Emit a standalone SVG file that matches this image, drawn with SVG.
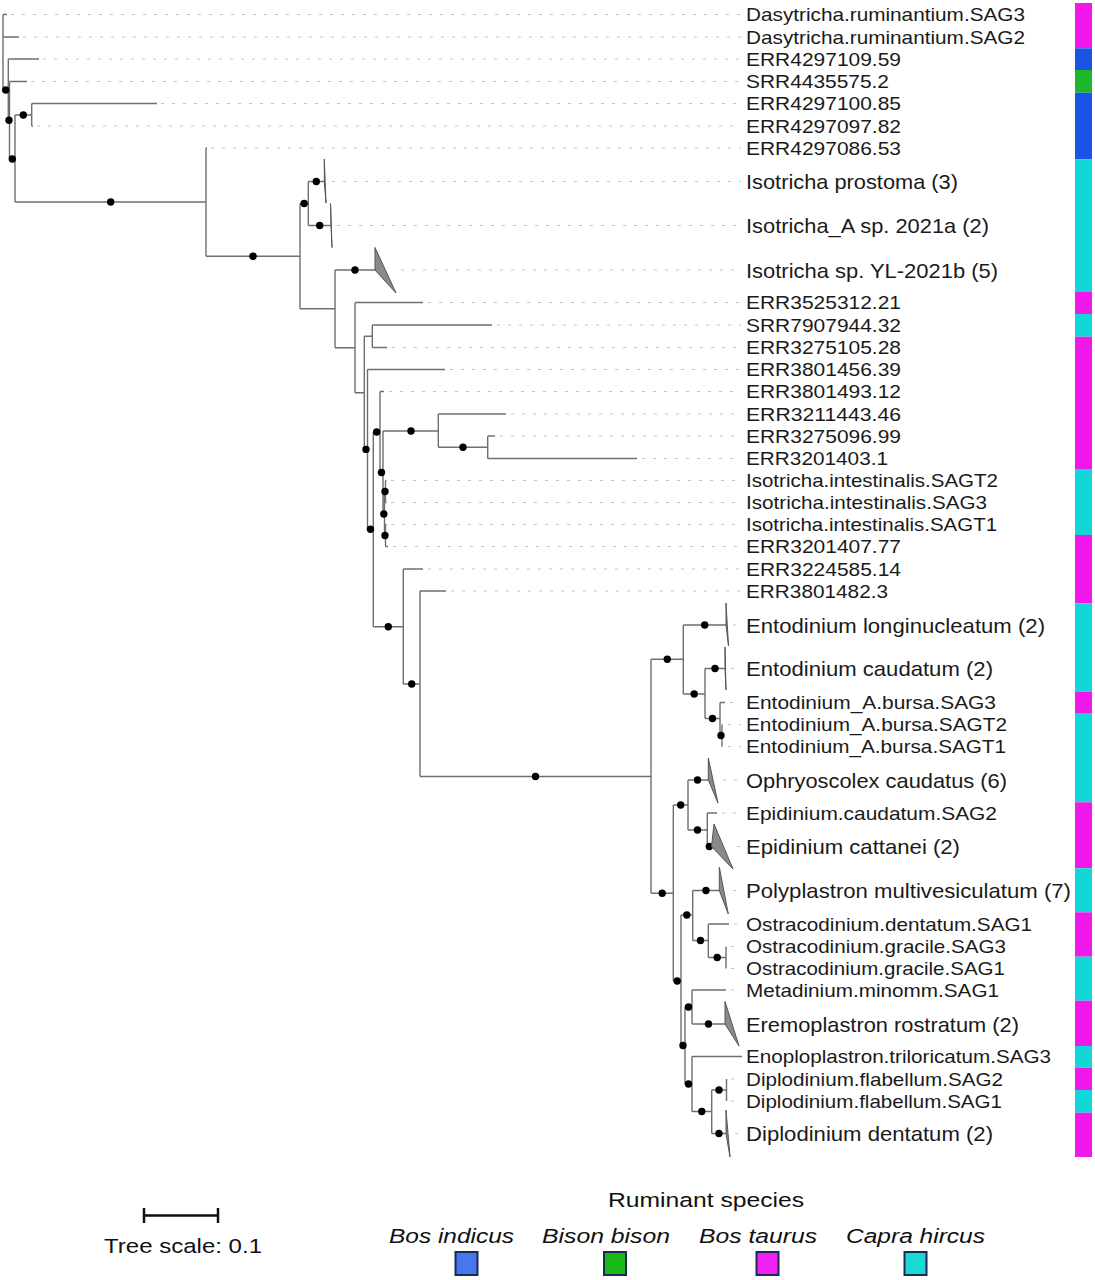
<svg xmlns="http://www.w3.org/2000/svg" width="1095" height="1280" viewBox="0 0 1095 1280">
<style>
.br{fill:none;stroke:#6f6f6f;stroke-width:1.4}
.ld{stroke:#c4c4c4;stroke-width:1;stroke-dasharray:3 8}
.dot{fill:#000}
.tri{fill:#8a8a8a;stroke:#555;stroke-width:1}
.lb{font-family:"Liberation Sans",Arial,sans-serif;font-size:18.5px;fill:#1a1a1a}
.lg{font-size:21px}
.leg{font-family:"Liberation Sans",Arial,sans-serif;font-size:20.5px;fill:#111}
.box{stroke:#1b2a50;stroke-width:2}
</style>
<rect width="1095" height="1280" fill="#fff"/>

<g id="connectors">
<path class="br" d="M3,14.5V90M3,14.5H7M3,37H19M3,90H8.3
M8.3,59V120.3M8.3,59H39M8.3,120.3H9.5
M9.5,81.5V159M9.5,81.5H27M9.5,159H15
M15,115V202M15,115H31.7M15,202H206
M31.7,103.5V126M31.7,103.5H157M31.7,126H33
M206,148V256.2M206,148H207M206,256.2H300
M300,203.5V308.8M300,203.5H308.3M300,308.8H335
M308.3,181.5V225.5M308.3,181.5H324.3M308.3,225.5H331
M335,270V347.7M335,270H375M335,347.7H355
M355,302.5V392.8M355,302.5H423M355,392.8H364.3
M364.3,336.3V449.4M364.3,336.3H372.3M364.3,449.4H367.5
M372.3,325V347.5M372.3,325H492M372.3,347.5H387
M367.5,369.5V529.3M367.5,369.5H445M367.5,529.3H373.3
M373.3,432V626.7M373.3,432H380M373.3,626.7H403.3
M380,391.5V472.5M380,391.5H384M380,472.5H383
M383,431V514M383,431H438.3M383,514H384.5
M438.3,414V447.3M438.3,414H506M438.3,447.3H487.7
M487.7,436V458.5M487.7,436H495M487.7,458.5H637
M384.5,491.5V535.5M384.5,491.5H385.5M384.5,535.5H385.5
M385.5,480.5V502.5M385.5,480.5H386.5M385.5,502.5H386.5
M385.5,524.5V546.5M385.5,524.5H386.5M385.5,546.5H388
M403.3,569V684M403.3,569H423M403.3,684H420
M420,591V776.5M420,591H446M420,776.5H651
M651,659.3V893.3M651,659.3H683.3M651,893.3H673.3
M683.3,625V694M683.3,625H726M683.3,694H705
M705,668.5V718.5M705,668.5H725M705,718.5H720
M720,702.5V735.5M720,702.5H725M720,735.5H722
M722,724.5V746.5M722,724.5H722.5M722,746.5H722.5
M673.3,805V981M673.3,805H688M673.3,981H681
M688,780V830M688,780H708.3M688,830H707.3
M707.3,813V846.5M707.3,813H717M707.3,846.5H711.5
M681,915V1045.5M681,915H692.7M681,1045.5H685
M692.7,890.5V940.5M692.7,890.5H719.3M692.7,940.5H708.3
M708.3,924V957.5M708.3,924H729M708.3,957.5H726
M726,946.5V968.5
M685,1007V1084M685,1007H692M685,1084H692
M692,990V1024M692,990H726M692,1024H725
M692,1056.5V1111.5M692,1056.5H742M692,1111.5H711.7
M711.7,1090V1133.5M711.7,1090H726.5M711.7,1133.5H726
M726.5,1079V1101"/>
</g>

<g id="support-dots" class="dot">
<circle cx="5.7" cy="90" r="3.7"/><circle cx="9" cy="120.3" r="3.7"/><circle cx="12.3" cy="159" r="3.7"/><circle cx="23.3" cy="115" r="3.7"/><circle cx="110.7" cy="202" r="3.7"/><circle cx="253" cy="256.2" r="3.7"/><circle cx="304.2" cy="203.5" r="3.7"/><circle cx="316.3" cy="181.5" r="3.7"/><circle cx="319.7" cy="225.5" r="3.7"/><circle cx="355" cy="270" r="3.7"/>
<circle cx="366" cy="449.4" r="3.7"/><circle cx="370.5" cy="529.3" r="3.7"/><circle cx="376.7" cy="432" r="3.7"/><circle cx="381.5" cy="472.5" r="3.7"/><circle cx="411" cy="431" r="3.7"/><circle cx="463" cy="447.3" r="3.7"/><circle cx="383.8" cy="514" r="3.7"/><circle cx="385" cy="491.5" r="3.7"/><circle cx="385" cy="535.5" r="3.7"/>
<circle cx="388.3" cy="626.7" r="3.7"/><circle cx="411.7" cy="684" r="3.7"/><circle cx="535.5" cy="776.5" r="3.7"/><circle cx="667.3" cy="659.3" r="3.7"/><circle cx="704.7" cy="625" r="3.7"/><circle cx="694.2" cy="694" r="3.7"/><circle cx="715" cy="668.5" r="3.7"/><circle cx="712.5" cy="718.5" r="3.7"/><circle cx="721" cy="735.5" r="3.7"/>
<circle cx="680.7" cy="805" r="3.7"/><circle cx="697.5" cy="780" r="3.7"/><circle cx="697.5" cy="830" r="3.7"/><circle cx="709.3" cy="846.5" r="3.7"/><circle cx="662.2" cy="893.3" r="3.7"/><circle cx="677.2" cy="981" r="3.7"/><circle cx="686.8" cy="915" r="3.7"/><circle cx="706" cy="890.5" r="3.7"/><circle cx="700.5" cy="940.5" r="3.7"/><circle cx="717.2" cy="957.5" r="3.7"/><circle cx="683" cy="1045.5" r="3.7"/><circle cx="688.5" cy="1007" r="3.7"/><circle cx="708.5" cy="1024" r="3.7"/><circle cx="688.5" cy="1084" r="3.7"/><circle cx="701.8" cy="1111.5" r="3.7"/><circle cx="719" cy="1090" r="3.7"/><circle cx="719" cy="1133.5" r="3.7"/>
</g>

<g id="collapsed-clades" class="tri">
<polygon points="324.3,181.5 324.3,159 326,203"/>
<polygon points="331,225.5 330.5,203.5 332,247.5"/>
<polygon points="375,270 375,247.5 396,293"/>
<polygon points="726,625 726,603 728.5,646"/>
<polygon points="725,668.5 725,647 726,690"/>
<polygon points="708.3,780 708.3,758 718,803"/>
<polygon points="711.5,846.5 714,824 733,869"/>
<polygon points="719.3,890.5 719.3,867 728.3,914"/>
<polygon points="725,1024 725,1001.5 739,1046"/>
<polygon points="726,1133.5 726,1110 730,1157"/>
</g>

<g id="leaders" class="ld">
<path d="M11,14.5H741M23,37H741M43,59H741M31,81.5H741M161,103.5H741M37,126H741M211,148H741M332,181.5H741M337,225.5H741M401,270H741M428,302.5H741M497,325H741M392,347.5H741M450,369.5H741M389,391.5H741M511,414H741M500,436H741M642,458.5H741M391,480.5H741M391,502.5H741M391,524.5H741M393,546.5H741M428,569H741M451,591H741M733,625H741M731,668.5H741M730,702.5H741M728,724.5H741M728,746.5H741M723,780H741M722,813H741M737,846.5H741M733,890.5H741M734,924H741M731,946.5H741M731,968.5H741M731,990H741M731,1079H741M731,1101H741M735,1133.5H741"/>
</g>

<g id="leaf-labels" class="lb">
<g id="n1"><text x="746" y="21" textLength="279" lengthAdjust="spacingAndGlyphs">Dasytricha.ruminantium.SAG3</text></g>
<g id="n2"><text x="746" y="43.5" textLength="279" lengthAdjust="spacingAndGlyphs">Dasytricha.ruminantium.SAG2</text></g>
<g id="n3"><text x="746" y="65.5" textLength="155" lengthAdjust="spacingAndGlyphs">ERR4297109.59</text></g>
<g id="n4"><text x="746" y="88" textLength="143" lengthAdjust="spacingAndGlyphs">SRR4435575.2</text></g>
<g id="n5"><text x="746" y="110" textLength="155" lengthAdjust="spacingAndGlyphs">ERR4297100.85</text></g>
<g id="n6"><text x="746" y="132.5" textLength="155" lengthAdjust="spacingAndGlyphs">ERR4297097.82</text></g>
<g id="n7"><text x="746" y="154.5" textLength="155" lengthAdjust="spacingAndGlyphs">ERR4297086.53</text></g>
<g id="n8"><text class="lg" x="746" y="189" textLength="212" lengthAdjust="spacingAndGlyphs">Isotricha prostoma (3)</text></g>
<g id="n9"><text class="lg" x="746" y="233" textLength="243" lengthAdjust="spacingAndGlyphs">Isotricha_A sp. 2021a (2)</text></g>
<g id="n10"><text class="lg" x="746" y="277.5" textLength="252" lengthAdjust="spacingAndGlyphs">Isotricha sp. YL-2021b (5)</text></g>
<g id="n11"><text x="746" y="309" textLength="155" lengthAdjust="spacingAndGlyphs">ERR3525312.21</text></g>
<g id="n12"><text x="746" y="331.5" textLength="155" lengthAdjust="spacingAndGlyphs">SRR7907944.32</text></g>
<g id="n13"><text x="746" y="354" textLength="155" lengthAdjust="spacingAndGlyphs">ERR3275105.28</text></g>
<g id="n14"><text x="746" y="376" textLength="155" lengthAdjust="spacingAndGlyphs">ERR3801456.39</text></g>
<g id="n15"><text x="746" y="398" textLength="155" lengthAdjust="spacingAndGlyphs">ERR3801493.12</text></g>
<g id="n16"><text x="746" y="420.5" textLength="155" lengthAdjust="spacingAndGlyphs">ERR3211443.46</text></g>
<g id="n17"><text x="746" y="442.5" textLength="155" lengthAdjust="spacingAndGlyphs">ERR3275096.99</text></g>
<g id="n18"><text x="746" y="465" textLength="142" lengthAdjust="spacingAndGlyphs">ERR3201403.1</text></g>
<g id="n19"><text x="746" y="487" textLength="252" lengthAdjust="spacingAndGlyphs">Isotricha.intestinalis.SAGT2</text></g>
<g id="n20"><text x="746" y="509" textLength="241" lengthAdjust="spacingAndGlyphs">Isotricha.intestinalis.SAG3</text></g>
<g id="n21"><text x="746" y="531" textLength="251" lengthAdjust="spacingAndGlyphs">Isotricha.intestinalis.SAGT1</text></g>
<g id="n22"><text x="746" y="553" textLength="155" lengthAdjust="spacingAndGlyphs">ERR3201407.77</text></g>
<g id="n23"><text x="746" y="575.5" textLength="155" lengthAdjust="spacingAndGlyphs">ERR3224585.14</text></g>
<g id="n24"><text x="746" y="597.5" textLength="142" lengthAdjust="spacingAndGlyphs">ERR3801482.3</text></g>
<g id="n25"><text class="lg" x="746" y="632.5" textLength="299" lengthAdjust="spacingAndGlyphs">Entodinium longinucleatum (2)</text></g>
<g id="n26"><text class="lg" x="746" y="676" textLength="247" lengthAdjust="spacingAndGlyphs">Entodinium caudatum (2)</text></g>
<g id="n27"><text x="746" y="709" textLength="250" lengthAdjust="spacingAndGlyphs">Entodinium_A.bursa.SAG3</text></g>
<g id="n28"><text x="746" y="731" textLength="261" lengthAdjust="spacingAndGlyphs">Entodinium_A.bursa.SAGT2</text></g>
<g id="n29"><text x="746" y="753" textLength="260" lengthAdjust="spacingAndGlyphs">Entodinium_A.bursa.SAGT1</text></g>
<g id="n30"><text class="lg" x="746" y="787.5" textLength="261" lengthAdjust="spacingAndGlyphs">Ophryoscolex caudatus (6)</text></g>
<g id="n31"><text x="746" y="819.5" textLength="251" lengthAdjust="spacingAndGlyphs">Epidinium.caudatum.SAG2</text></g>
<g id="n32"><text class="lg" x="746" y="854" textLength="214" lengthAdjust="spacingAndGlyphs">Epidinium cattanei (2)</text></g>
<g id="n33"><text class="lg" x="746" y="898" textLength="325" lengthAdjust="spacingAndGlyphs">Polyplastron multivesiculatum (7)</text></g>
<g id="n34"><text x="746" y="930.5" textLength="286" lengthAdjust="spacingAndGlyphs">Ostracodinium.dentatum.SAG1</text></g>
<g id="n35"><text x="746" y="953" textLength="260" lengthAdjust="spacingAndGlyphs">Ostracodinium.gracile.SAG3</text></g>
<g id="n36"><text x="746" y="975" textLength="259" lengthAdjust="spacingAndGlyphs">Ostracodinium.gracile.SAG1</text></g>
<g id="n37"><text x="746" y="996.5" textLength="253" lengthAdjust="spacingAndGlyphs">Metadinium.minomm.SAG1</text></g>
<g id="n38"><text class="lg" x="746" y="1031.5" textLength="273" lengthAdjust="spacingAndGlyphs">Eremoplastron rostratum (2)</text></g>
<g id="n39"><text x="746" y="1063" textLength="305" lengthAdjust="spacingAndGlyphs">Enoploplastron.triloricatum.SAG3</text></g>
<g id="n40"><text x="746" y="1085.5" textLength="257" lengthAdjust="spacingAndGlyphs">Diplodinium.flabellum.SAG2</text></g>
<g id="n41"><text x="746" y="1107.5" textLength="256" lengthAdjust="spacingAndGlyphs">Diplodinium.flabellum.SAG1</text></g>
<g id="n42"><text class="lg" x="746" y="1141" textLength="247" lengthAdjust="spacingAndGlyphs">Diplodinium dentatum (2)</text></g>
</g>

<g id="host-strip">
<rect x="1075" y="3" width="17" height="45.3" fill="#f018e8"/>
<rect x="1075" y="48.3" width="17" height="21.7" fill="#1a54e4"/>
<rect x="1075" y="70" width="17" height="22.7" fill="#1fb52d"/>
<rect x="1075" y="92.7" width="17" height="66.6" fill="#1a54e4"/>
<rect x="1075" y="159.3" width="17" height="132.7" fill="#12d6d8"/>
<rect x="1075" y="292" width="17" height="22" fill="#f018e8"/>
<rect x="1075" y="314" width="17" height="22.7" fill="#12d6d8"/>
<rect x="1075" y="336.7" width="17" height="132.3" fill="#f018e8"/>
<rect x="1075" y="469" width="17" height="66" fill="#12d6d8"/>
<rect x="1075" y="535" width="17" height="68.3" fill="#f018e8"/>
<rect x="1075" y="603.3" width="17" height="88.4" fill="#12d6d8"/>
<rect x="1075" y="691.7" width="17" height="22" fill="#f018e8"/>
<rect x="1075" y="713.7" width="17" height="88.6" fill="#12d6d8"/>
<rect x="1075" y="802.3" width="17" height="66" fill="#f018e8"/>
<rect x="1075" y="868.3" width="17" height="44" fill="#12d6d8"/>
<rect x="1075" y="912.3" width="17" height="44.4" fill="#f018e8"/>
<rect x="1075" y="956.7" width="17" height="44" fill="#12d6d8"/>
<rect x="1075" y="1000.7" width="17" height="45.3" fill="#f018e8"/>
<rect x="1075" y="1046" width="17" height="21.7" fill="#12d6d8"/>
<rect x="1075" y="1067.7" width="17" height="22.3" fill="#f018e8"/>
<rect x="1075" y="1090" width="17" height="22.7" fill="#12d6d8"/>
<rect x="1075" y="1112.7" width="17" height="44.3" fill="#f018e8"/>
</g>

<g id="scale-bar">
<path d="M144,1215.5H218M144,1208V1223M218,1208V1223" stroke="#111" stroke-width="2.5" fill="none"/>
<text class="leg" x="104" y="1253" textLength="158" lengthAdjust="spacingAndGlyphs">Tree scale: 0.1</text>
</g>

<g id="legend">
<text class="leg" x="608" y="1207" textLength="196" lengthAdjust="spacingAndGlyphs">Ruminant species</text>
<g font-style="italic">
<text class="leg" x="389" y="1243" textLength="125" lengthAdjust="spacingAndGlyphs">Bos indicus</text>
<text class="leg" x="542" y="1243" textLength="128" lengthAdjust="spacingAndGlyphs">Bison bison</text>
<text class="leg" x="699" y="1243" textLength="118" lengthAdjust="spacingAndGlyphs">Bos taurus</text>
<text class="leg" x="846" y="1243" textLength="139" lengthAdjust="spacingAndGlyphs">Capra hircus</text>
</g>
<rect class="box" x="455.5" y="1252" width="22" height="23" fill="#4677ee"/>
<rect class="box" x="604" y="1252" width="22" height="23" fill="#18b818"/>
<rect class="box" x="756.5" y="1252" width="22" height="23" fill="#f31ef0"/>
<rect class="box" x="904.5" y="1252" width="22" height="23" fill="#1bd8d8"/>
</g>
</svg>
